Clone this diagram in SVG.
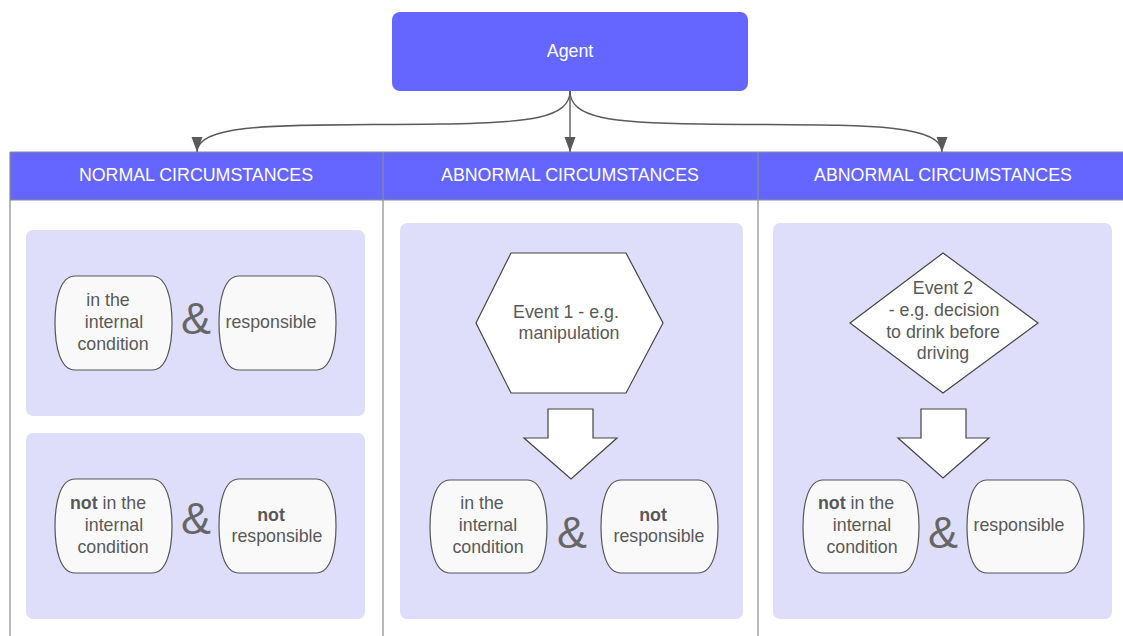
<svg xmlns="http://www.w3.org/2000/svg" width="1123" height="636" viewBox="0 0 1123 636">
<style>
.t{font-family:"Liberation Sans",Arial,sans-serif;font-size:17.8px;fill:#595959;text-anchor:middle}
.w{font-family:"Liberation Sans",Arial,sans-serif;font-size:17.8px;fill:#ffffff;text-anchor:middle}
.amp{font-family:"Liberation Sans",Arial,sans-serif;font-size:45px;fill:#666666;text-anchor:middle}
.panel{fill:#dedefb}
.node{fill:#f9f9f9;stroke:#555555;stroke-width:1.2}
.shape{fill:#ffffff;stroke:#444444;stroke-width:1.2}
.col{stroke:#8a8a8a;stroke-width:1.2;fill:none}
.conn{stroke:#5a5a5a;stroke-width:1.4;fill:none}
.b{font-weight:bold}
</style>
<defs>
<marker id="ah" markerUnits="userSpaceOnUse" markerWidth="16" markerHeight="12" refX="15" refY="6" orient="auto">
<path d="M0,0.5 L15,6 L0,11.5 z" fill="#5a5a5a"/>
</marker>
</defs>
<rect width="1123" height="636" fill="#ffffff"/>

<g id="columns">
<rect x="10" y="152" width="1113" height="48" fill="#6466ff"/>
<line class="col" x1="10" y1="152" x2="1123" y2="152"/>
<line class="col" x1="10" y1="200" x2="1123" y2="200"/>
<line class="col" x1="10" y1="152" x2="10" y2="636"/>
<line class="col" x1="383" y1="152" x2="383" y2="636"/>
<line class="col" x1="758" y1="152" x2="758" y2="636"/>
<text class="w" x="196" y="181">NORMAL CIRCUMSTANCES</text>
<text class="w" x="570" y="181">ABNORMAL CIRCUMSTANCES</text>
<text class="w" x="943" y="181">ABNORMAL CIRCUMSTANCES</text>
</g>

<g id="agent">
<rect x="392" y="12" width="356" height="79" rx="8" fill="#6466ff"/>
<text class="w" x="570" y="57">Agent</text>
</g>

<g id="connectors">
<path class="conn" d="M570,91 L570,152" marker-end="url(#ah)"/>
<path class="conn" d="M570,91 C570,118 530,123 440,124 C300,126 197,120 197,152" marker-end="url(#ah)"/>
<path class="conn" d="M570,91 C570,118 610,123 700,124 C840,126 942,120 942,152" marker-end="url(#ah)"/>
</g>

<g id="panels">
<rect class="panel" x="26" y="230" width="339" height="186" rx="7"/>
<rect class="panel" x="26" y="433" width="339" height="186" rx="7"/>
<rect class="panel" x="400" y="223" width="343" height="396" rx="7"/>
<rect class="panel" x="773" y="223" width="339" height="396" rx="7"/>
</g>

<g id="n1a">
<path class="node" d="M75,276 H152 C167,276 172,300 172,323 C172,346 167,370 152,370 H75 C60,370 55,346 55,323 C55,300 60,276 75,276 Z"/>
<text class="t" x="108" y="306">in the</text>
<text class="t" x="114" y="328">internal</text>
<text class="t" x="113" y="350">condition</text>
</g>
<text class="amp" x="196" y="334">&amp;</text>
<g id="n1b">
<path class="node" d="M239,276 H316 C331,276 336,300 336,323 C336,346 331,370 316,370 H239 C224,370 219,346 219,323 C219,300 224,276 239,276 Z"/>
<text class="t" x="271" y="328">responsible</text>
</g>

<g id="n2a">
<path class="node" d="M75,479 H152 C167,479 172,503 172,526 C172,549 167,573 152,573 H75 C60,573 55,549 55,526 C55,503 60,479 75,479 Z"/>
<text class="t" x="108" y="509"><tspan class="b">not</tspan> in the</text>
<text class="t" x="114" y="531">internal</text>
<text class="t" x="113" y="553">condition</text>
</g>
<text class="amp" x="196" y="534">&amp;</text>
<g id="n2b">
<path class="node" d="M239,479 H316 C331,479 336,503 336,526 C336,549 331,573 316,573 H239 C224,573 219,549 219,526 C219,503 224,479 239,479 Z"/>
<text class="t b" x="271" y="521">not</text>
<text class="t" x="277" y="542">responsible</text>
</g>

<g id="event1">
<polygon class="shape" points="476,323 511,253 626,253 663,323 626,393 511,393"/>
<text class="t" x="566" y="318">Event 1 - e.g.</text>
<text class="t" x="569" y="339">manipulation</text>
</g>
<g id="arrow1">
<polygon class="shape" points="548,409 593,409 593,438 617,438 571,479 524,438 548,438"/>
</g>
<g id="n3a">
<path class="node" d="M450,480 H527 C542,480 547,504 547,527 C547,550 542,573 527,573 H450 C435,573 430,550 430,527 C430,504 435,480 450,480 Z"/>
<text class="t" x="482" y="509">in the</text>
<text class="t" x="488" y="531">internal</text>
<text class="t" x="488" y="553">condition</text>
</g>
<text class="amp" x="572" y="548">&amp;</text>
<g id="n3b">
<path class="node" d="M621,480 H698 C713,480 718,504 718,527 C718,550 713,573 698,573 H621 C606,573 601,550 601,527 C601,504 606,480 621,480 Z"/>
<text class="t b" x="653" y="521">not</text>
<text class="t" x="659" y="542">responsible</text>
</g>

<g id="event2">
<polygon class="shape" points="943,253 1038,323 943,393 850,323"/>
<text class="t" x="943" y="294">Event 2</text>
<text class="t" x="944" y="316">- e.g. decision</text>
<text class="t" x="943" y="338">to drink before</text>
<text class="t" x="943" y="359">driving</text>
</g>
<g id="arrow2">
<polygon class="shape" points="921,409 966,409 966,438 989,438 943,478 898,438 921,438"/>
</g>
<g id="n4a">
<path class="node" d="M823,480 H899 C914,480 919,504 919,527 C919,550 914,573 899,573 H823 C808,573 803,550 803,527 C803,504 808,480 823,480 Z"/>
<text class="t" x="856" y="509"><tspan class="b">not</tspan> in the</text>
<text class="t" x="862" y="531">internal</text>
<text class="t" x="862" y="553">condition</text>
</g>
<text class="amp" x="943" y="548">&amp;</text>
<g id="n4b">
<path class="node" d="M987,480 H1064 C1079,480 1084,504 1084,527 C1084,550 1079,573 1064,573 H987 C972,573 967,550 967,527 C967,504 972,480 987,480 Z"/>
<text class="t" x="1019" y="531">responsible</text>
</g>
</svg>
